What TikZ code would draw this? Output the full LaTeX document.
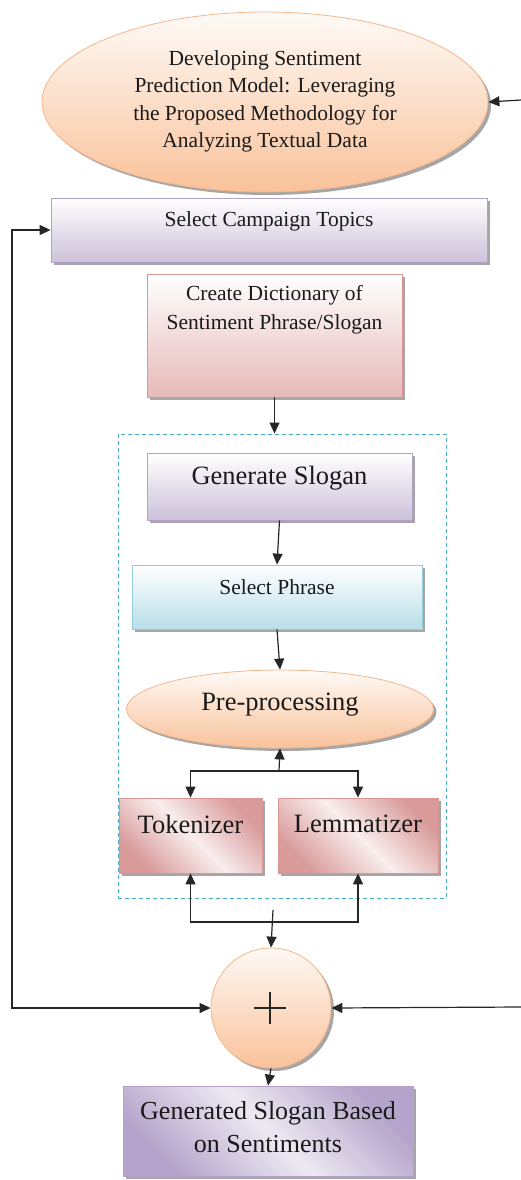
\documentclass[tikz,border=0pt]{standalone}
\usepackage{fontspec}
\setmainfont{Liberation Serif}
\usetikzlibrary{shapes.geometric,arrows.meta,shadows}
\definecolor{lav}{HTML}{CCC1DA}
\definecolor{lavB}{HTML}{B3A2C7}
\definecolor{lavD}{HTML}{B4A3CA}
\definecolor{pnk}{HTML}{E6B9B8}
\definecolor{pnkB}{HTML}{D99694}
\definecolor{pnkD}{HTML}{D99A9A}
\definecolor{blu}{HTML}{B7DEE8}
\definecolor{bluB}{HTML}{93CDDD}
\definecolor{dashc}{HTML}{4BACC6}
\definecolor{pch}{HTML}{F9C29A}
\definecolor{pchB}{HTML}{F5B58A}
\definecolor{txt}{HTML}{1A1A1A}
\tikzset{
  sh/.style={drop shadow={shadow xshift=3pt,shadow yshift=-3pt,fill=black!50,opacity=0.7}},
  basebox/.style={rectangle, line width=0.8pt, inner sep=0pt, sh},
  lavbox/.style={basebox, draw=lavB, top color=white, bottom color=lav},
  pnkbox/.style={basebox, draw=pnkB, top color=white, bottom color=pnk},
  blubox/.style={basebox, draw=bluB, top color=white, bottom color=blu},
  diagpnk/.style={basebox, draw=pnkB, top color=pnkD, bottom color=pnkD, middle color=pnk!25, shading angle=-45},
  diaglav/.style={basebox, draw=lavB, top color=lavD, bottom color=lavD, middle color=lav!35, shading angle=-45},
  ell/.style={ellipse, draw=pchB, line width=0.8pt, inner sep=0pt, top color=white!92!pch, bottom color=pch, sh, text=txt},
  smalltxt/.style={font=\fontsize{21.5}{27.5}\selectfont, align=center, text=txt, inner sep=0pt},
  bigtxt/.style={font=\fontsize{26.5}{33}\selectfont, align=center, text=txt, inner sep=0pt},
  arr/.style={draw=black!85, line width=1.2pt, -{Triangle[length=11pt,width=10pt]}},
  darr/.style={draw=black!85, line width=1.2pt, {Triangle[length=11pt,width=10pt]}-{Triangle[length=11pt,width=10pt]}},
  grp/.style={rectangle, draw=dashc, line width=1pt, dash pattern=on 4pt off 3pt, inner sep=0pt}
}
\begin{document}
\begin{tikzpicture}[x=1pt,y=-1pt]
\useasboundingbox (0,0) rectangle (521,1180);
% dashed group
\node[grp, minimum width=328pt, minimum height=464pt] (group) at (282,666) {};
% top ellipse
\node[ell, minimum width=446pt, minimum height=180pt] (top) at (265,102) {};
\node[smalltxt] (toptxt) at (265,101.5) {Developing Sentiment\\Prediction Model: Leveraging\\the Proposed Methodology for\\Analyzing Textual Data};
% campaign
\node[lavbox, minimum width=436pt, minimum height=64pt] (camp) at (269,230) {};
\node[smalltxt] (camptxt) at (269,221) {Select Campaign Topics};
% dictionary
\node[pnkbox, minimum width=255pt, minimum height=123pt] (dict) at (274.5,335.5) {};
\node[smalltxt, font=\fontsize{21.5}{29}\selectfont] (dicttxt) at (274.5,310) {Create Dictionary of\\Sentiment Phrase/Slogan};
% generate slogan
\node[lavbox, minimum width=265pt, minimum height=67pt] (gen) at (279.5,486.5) {};
\node[bigtxt] (gentxt) at (279.5,478) {Generate Slogan};
% select phrase
\node[blubox, minimum width=290pt, minimum height=64pt] (phr) at (277,597) {};
\node[smalltxt] (phrtxt) at (277,587) {Select Phrase};
% pre-processing
\node[ell, minimum width=307pt, minimum height=78pt] (pre) at (280,709) {};
\node[bigtxt] (pretxt) at (280,705) {Pre-processing};
% tokenizer / lemmatizer
\node[diagpnk, minimum width=143pt, minimum height=75pt] (tok) at (190.5,835.5) {};
\node[bigtxt] (toktxt) at (190.5,824) {Tokenizer};
\node[diagpnk, minimum width=160pt, minimum height=75pt] (lem) at (358,835.5) {};
\node[bigtxt] (lemtxt) at (358,824) {Lemmatizer};
% circle
\node[circle, draw=pchB, line width=0.8pt, minimum size=120pt, inner sep=0pt, top color=white!90!pch, bottom color=pch, sh] (circ) at (271,1008) {};
\draw[black!85, line width=1.1pt] (254,1008) -- (286,1008) (270,992) -- (270,1024);
% final
\node[diaglav, minimum width=290pt, minimum height=90pt] (fin) at (268,1131) {};
\node[bigtxt, font=\fontsize{26}{33}\selectfont] (fintxt) at (268,1127) {Generated Slogan Based\\on Sentiments};
% coordinates
\coordinate (rtop) at (521,100);
\coordinate (rbot) at (521,1007);
\coordinate (lx) at (12,600);
\coordinate (j1) at (279,771);
\coordinate (j2) at (273,922);
\coordinate (j2top) at (273,910);
% connectors
\draw[arr] (rtop) -- (top.east);
\draw[arr] (rbot) -- (circ.east);
\draw[darr] (camp.west) -| (lx) |- (circ.west);
\draw[arr] (dict.south) -- (dict.south |- group.north);
\draw[arr] (gen.south) -- (phr.north);
\draw[arr] (phr.south) -- (pre.north);
\draw[arr] (j1) -- (pre.south);
\draw[arr] (j1) -| (tok.north);
\draw[arr] (j1) -| (lem.north);
\draw[arr] (j2) -| (tok.south);
\draw[arr] (j2) -| (lem.south);
\draw[arr] (j2top) -- (circ.north);
\draw[arr] (circ.south) -- (fin.north);
\end{tikzpicture}
\end{document}
